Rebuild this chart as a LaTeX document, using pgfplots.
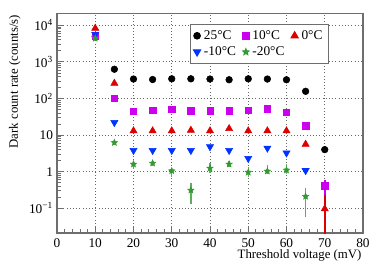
\documentclass[border=0pt]{standalone}
\usepackage{fontspec}
\setmainfont{Liberation Serif}
\usepackage{pgfplots}
\pgfplotsset{compat=1.18}
\definecolor{cBlack}{RGB}{0,0,0}
\definecolor{cMag}{RGB}{204,0,238}
\definecolor{cRed}{RGB}{221,0,0}
\definecolor{cBlue}{RGB}{0,51,255}
\definecolor{cGreen}{RGB}{51,153,51}
\definecolor{frame}{RGB}{110,110,110}
\pgfdeclareplotmark{fstar}{%
  \pgfpathmoveto{\pgfpointpolar{90}{\pgfplotmarksize}}%
  \pgfpathlineto{\pgfpointpolar{126}{0.45\pgfplotmarksize}}%
  \pgfpathlineto{\pgfpointpolar{162}{\pgfplotmarksize}}%
  \pgfpathlineto{\pgfpointpolar{198}{0.45\pgfplotmarksize}}%
  \pgfpathlineto{\pgfpointpolar{234}{\pgfplotmarksize}}%
  \pgfpathlineto{\pgfpointpolar{270}{0.45\pgfplotmarksize}}%
  \pgfpathlineto{\pgfpointpolar{306}{\pgfplotmarksize}}%
  \pgfpathlineto{\pgfpointpolar{342}{0.45\pgfplotmarksize}}%
  \pgfpathlineto{\pgfpointpolar{18}{\pgfplotmarksize}}%
  \pgfpathlineto{\pgfpointpolar{54}{0.45\pgfplotmarksize}}%
  \pgfpathclose
  \pgfusepathqfillstroke
}
\begin{document}
\begin{tikzpicture}
\path[use as bounding box] (-42.75pt,-31.5pt) rectangle (243.75pt,174.75pt);
\begin{axis}[
  scale only axis,
  width=229.5pt, height=164.6pt,
  ymode=log,
  xmin=0, xmax=80, ymin=0.021, ymax=21000,
  xtick={0,10,...,80},
  minor x tick num=4,
  ytick={0.1,1,10,100,1000,10000},
  yticklabels={10\textsuperscript{−1},1,10,10\textsuperscript{2},10\textsuperscript{3},10\textsuperscript{4}},
  tick pos=left,
  major tick length=5.5pt,
  minor tick length=3pt,
  tick style={color=frame, line width=0.6pt},
  axis line style={color=frame, line width=0.8pt},
  grid=major,
  major grid style={dotted, color=gray!80!black, line width=0.6pt},
  /pgf/number format/assume math mode=true,
  ticklabel style={font=\fontsize{10}{11}\selectfont},
  xticklabel style={yshift=-0.5pt},
  yticklabel style={xshift=0.5pt},
  label style={font=\fontsize{9.6}{11}\selectfont},
  xlabel={Threshold voltage (mV)},
  ylabel={Dark count rate (counts/s)},
  xlabel style={at={(rel axis cs:1,0)}, anchor=north east, yshift=-11.5pt, inner sep=1pt},
  ylabel style={at={(rel axis cs:-0.114,1)}, anchor=south east, inner sep=1pt},
  legend columns=3,
  legend cell align=left,
  legend style={at={(0.435,0.951)}, anchor=north west, draw=frame, line width=0.7pt,
    fill=white, font=\fontsize{10}{12}\selectfont, inner sep=2.2pt,
    /tikz/every odd column/.append style={column sep=0.5pt},
    /tikz/every even column/.append style={column sep=3pt}},
  clip=true,
]
% 25 C
\addplot[only marks, mark=*, mark size=2.5pt, color=cBlack] coordinates {
(10,5000) (15,630) (20,340) (25,330) (30,345) (35,345) (40,340) (45,325) (50,345) (55,340) (60,325) (65,157) (70,4.0)};
\addlegendentry{25°C}
% 10 C
\addplot[only marks, mark=square*, mark size=2.4pt, color=cMag,
  error bars/.cd, y dir=both, y explicit, error mark=none,
  error bar style={line width=1.2pt, color=cMag}] coordinates {
(10,5200) (15,100) (20,45) (25,48) (30,50) (35,46) (40,46) (45,46) (50,48) (55,52) (60,42) (65,18) (70,0.41) += (0,0.18) -= (0,0.20)};
\addlegendentry{10°C}
% 0 C
\addplot[only marks, mark=triangle*, mark size=3.1pt, color=cRed,
  error bars/.cd, y dir=both, y explicit, error mark=none,
  error bar style={line width=1.2pt, color=cRed}] coordinates {
(10,8300) (15,260) (20,13) (25,13) (30,13) (35,13.5) (40,13) (45,15) (50,13) (55,13) (60,13) (65,5.6) (70,0.096) += (0,0.13) -= (0,0.0955)};
\addlegendentry{0°C}
% -10 C
\addplot[only marks, mark=triangle*, mark size=3.1pt, mark options={rotate=180}, color=cBlue] coordinates {
(10,5650) (15,22) (20,3.8) (25,3.8) (30,3.8) (35,3.8) (40,4.8) (45,3.8) (50,2.3) (55,4.4) (60,3.25) (65,1.07)};
\addlegendentry{-10°C}
% -20 C
\addplot[only marks, mark=fstar, mark size=2.5pt, color=cGreen,
  error bars/.cd, y dir=both, y explicit, error mark=none,
  error bar style={line width=1.1pt, color=cGreen!80}] coordinates {
(10,4400)
(15,6.2) += (0,1.2) -= (0,1.0)
(20,1.6) += (0,0.4) -= (0,0.44)
(25,1.7) += (0,0.4) -= (0,0.3)
(30,1.05) += (0,0.2) -= (0,0.32)
(35,0.31) += (0,0.17) -= (0,0.18)
(40,1.24) += (0,0.46) -= (0,0.34)
(45,1.6) += (0,0.4) -= (0,0.3)
(50,0.96) += (0,0.34) -= (0,0.26)
(55,1.03) += (0,0.47) -= (0,0.18)
(60,1.1) += (0,0.5) -= (0,0.25)
(65,0.21) += (0,0.14) -= (0,0.151)};
\addlegendentry{-20°C}
\end{axis}
\end{tikzpicture}
\end{document}
